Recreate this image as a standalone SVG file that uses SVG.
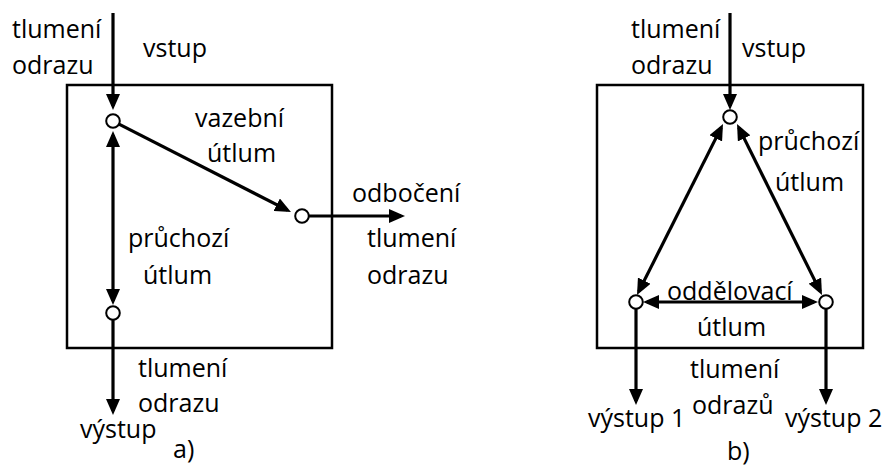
<svg xmlns="http://www.w3.org/2000/svg" width="889" height="470" viewBox="0 0 889 470">
<style>
.box{fill:none;stroke:#000;stroke-width:2.5}
.node circle{fill:#fff;stroke:#000;stroke-width:2}
.c line{stroke:#000;stroke-width:3.2;marker-end:url(#ah)}
.c line.d{marker-start:url(#ah)}
text{font-family:"Open Sans","Liberation Sans",sans-serif;font-size:25px;fill:#000}
</style>
<defs>
<marker id="ah" markerUnits="userSpaceOnUse" markerWidth="16" markerHeight="14" refX="12" refY="7" orient="auto-start-reverse">
<path d="M0,0 L16,7 L0,14 z" fill="#000"/>
</marker>
</defs>
<rect class="box" x="67" y="85" width="265" height="263"/>
<rect class="box" x="597" y="85" width="266" height="263"/>
<g class="c" id="connectors">
<line x1="113" y1="13" x2="113" y2="106"/>
<line class="d" x1="113" y1="135" x2="113" y2="301"/>
<line x1="113" y1="320" x2="113" y2="411"/>
<line x1="119" y1="124.2" x2="287.4" y2="210.2"/>
<line x1="309" y1="216" x2="401" y2="216"/>
<line x1="730" y1="13" x2="730" y2="106"/>
<line class="d" x1="638.8" y1="291.4" x2="721.2" y2="127.6"/>
<line class="d" x1="820.2" y1="291.4" x2="738.8" y2="127.6"/>
<line class="d" x1="647" y1="302" x2="814" y2="302"/>
<line x1="636" y1="309" x2="636" y2="401"/>
<line x1="826" y1="309" x2="826" y2="401"/>
</g>
<g class="node" id="a-n1"><circle cx="113" cy="121" r="6.8"/></g>
<g class="node" id="a-n2"><circle cx="302" cy="216" r="6.8"/></g>
<g class="node" id="a-n3"><circle cx="113" cy="313" r="6.8"/></g>
<g class="node" id="b-n1"><circle cx="730" cy="117" r="6.8"/></g>
<g class="node" id="b-n2"><circle cx="636" cy="302" r="6.8"/></g>
<g class="node" id="b-n3"><circle cx="826" cy="302" r="6.8"/></g>
<g id="labels-a">
<text x="12" y="38">tlumení</text>
<text x="12" y="74">odrazu</text>
<text x="143" y="57">vstup</text>
<text x="195" y="127">vazební</text>
<text x="207" y="162">útlum</text>
<text x="352" y="202">odbočení</text>
<text x="367" y="247">tlumení</text>
<text x="367" y="284">odrazu</text>
<text x="128" y="247">průchozí</text>
<text x="143" y="284">útlum</text>
<text x="138" y="377">tlumení</text>
<text x="138" y="412">odrazu</text>
<text x="80" y="438">výstup</text>
<text x="173" y="458">a)</text>
</g>
<g id="labels-b">
<text x="631" y="38">tlumení</text>
<text x="631" y="74">odrazu</text>
<text x="742" y="57">vstup</text>
<text x="758" y="150">průchozí</text>
<text x="775" y="191">útlum</text>
<text x="667" y="300">oddělovací</text>
<text x="697" y="336">útlum</text>
<text x="690" y="378">tlumení</text>
<text x="692" y="414">odrazů</text>
<text x="588" y="427">výstup 1</text>
<text x="785" y="427">výstup 2</text>
<text x="727" y="460">b)</text>
</g>
</svg>
